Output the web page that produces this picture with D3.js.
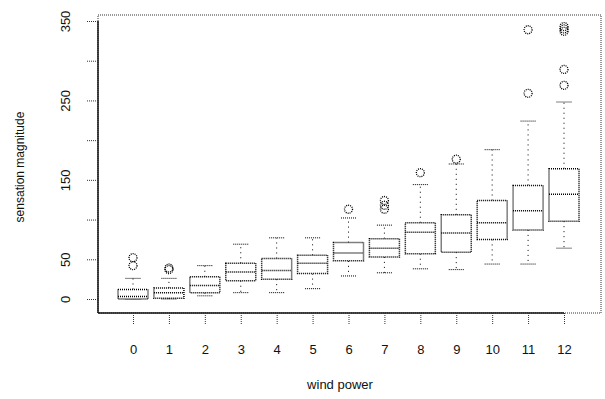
<!DOCTYPE html>
<html>
<head>
<meta charset="utf-8">
<script src="https://cdn.jsdelivr.net/npm/d3@7"></script>
<style>
  body { margin: 0; background: #fff; }
  svg { display: block; }
  text { font-family: "Liberation Sans", Arial, sans-serif; fill: #111; }
</style>
</head>
<body>
<script>
const categories = ["0","1","2","3","4","5","6","7","8","9","10","11","12"];
const q1Values     = [0, 1, 8, 23, 25, 32, 48, 53, 57, 59, 75, 87, 98];
const medianValues = [3, 8, 17, 34, 36, 45, 58, 64, 84, 83, 96, 111, 132];
const q3Values     = [12, 14, 28, 45, 51, 55, 71, 76, 96, 106, 124, 143, 164];
const lowerWhisker = [0, 0, 4, 8, 8, 13, 29, 33, 38, 37, 44, 44, 64];
const upperWhisker = [26, 26, 42, 69, 77, 77, 102, 93, 144, 170, 188, 224, 248];
const outlierValues = [[42, 52], [37, 39], [], [], [], [], [113], [113, 118, 124], [159], [176], [], [259, 339], [269, 289, 337, 340, 343]];
const yTicks = [0, 50, 100, 150, 200, 250, 300, 350];
const yTickLabels = ["0", "50", "", "150", "", "250", "", "350"];
const xTitle = "wind power";
const yTitle = "sensation magnitude";

const W = 605, H = 399;
const svg = d3.select("body").append("svg").attr("width", W).attr("height", H);

const x = d3.scalePoint().domain(categories).range([133, 564]);
const y = d3.scaleLinear().domain([0, 350]).range([299, 21]);

const plot = { left: 98, right: 601, top: 15, bottom: 313 };
const boxW = 30, capW = 15;
const dot = "1,1";
const col = "#000";

// frame
svg.append("rect")
  .attr("x", plot.left).attr("y", plot.top)
  .attr("width", plot.right - plot.left).attr("height", plot.bottom - plot.top)
  .attr("fill", "none").attr("stroke", "#333").attr("stroke-width", 1)
  .attr("stroke-dasharray", dot);

// y axis
const yAxis = d3.axisLeft(y).tickValues(yTicks).tickSize(12)
  .tickFormat((d, i) => yTickLabels[i]);
const gy = svg.append("g").attr("transform", `translate(${plot.left},0)`).call(yAxis);
gy.select(".domain").attr("stroke", "#111").attr("stroke-width", 1.5).attr("d", `M0,${plot.bottom}V${y(350)}`);
gy.selectAll(".tick line").attr("stroke", "#333").attr("stroke-dasharray", dot);
gy.selectAll(".tick text")
  .attr("transform", "rotate(-90)")
  .attr("x", 0).attr("y", -33).attr("dy", "0.35em")
  .attr("text-anchor", "middle")
  .style("font-size", "13px");

// x axis
const xAxis = d3.axisBottom(x).tickSize(11).tickPadding(21);
const gx = svg.append("g").attr("transform", `translate(0,${plot.bottom})`).call(xAxis);
gx.select(".domain").attr("stroke", "#111").attr("stroke-width", 1.5).attr("d", `M${plot.left},0H${x("12")}`);
gx.selectAll(".tick line").attr("stroke", "#333").attr("stroke-dasharray", dot);
gx.selectAll(".tick text").style("font-size", "13px");

// titles
svg.append("text").attr("x", 340).attr("y", 389).attr("text-anchor", "middle")
  .style("font-size", "13px").text(xTitle);
svg.append("text").attr("transform", "translate(24,167) rotate(-90)")
  .attr("text-anchor", "middle").style("font-size", "12px").text(yTitle);

// boxes
const data = categories.map((c, i) => ({
  c, q1: q1Values[i], med: medianValues[i], q3: q3Values[i],
  lo: lowerWhisker[i], hi: upperWhisker[i], out: outlierValues[i]
}));

const g = svg.append("g").attr("fill", "none").attr("stroke", col);

const bx = g.selectAll("g.box").data(data).join("g").attr("class", "box");

// whiskers
bx.append("line")
  .attr("x1", d => x(d.c)).attr("x2", d => x(d.c))
  .attr("y1", d => y(d.q3)).attr("y2", d => y(d.hi))
  .attr("stroke-dasharray", "1,4");
bx.append("line")
  .attr("x1", d => x(d.c)).attr("x2", d => x(d.c))
  .attr("y1", d => y(d.q1)).attr("y2", d => y(d.lo))
  .attr("stroke-dasharray", "1,4");
// caps
bx.append("line")
  .attr("x1", d => x(d.c) - capW / 2).attr("x2", d => x(d.c) + capW / 2)
  .attr("y1", d => y(d.hi)).attr("y2", d => y(d.hi))
  .attr("stroke-dasharray", dot);
bx.append("line")
  .attr("x1", d => x(d.c) - capW / 2).attr("x2", d => x(d.c) + capW / 2)
  .attr("y1", d => y(d.lo)).attr("y2", d => y(d.lo))
  .attr("stroke-dasharray", dot);
// box
bx.append("rect")
  .attr("x", d => x(d.c) - boxW / 2).attr("width", boxW)
  .attr("y", d => y(d.q3)).attr("height", d => y(d.q1) - y(d.q3))
  .attr("fill", "#fff")
  .attr("stroke-width", 1.5)
  .attr("stroke-dasharray", dot);
// median
bx.append("line")
  .attr("x1", d => x(d.c) - boxW / 2).attr("x2", d => x(d.c) + boxW / 2)
  .attr("y1", d => y(d.med)).attr("y2", d => y(d.med))
  .attr("stroke-width", 1.5)
  .attr("stroke-dasharray", dot);
// outliers
bx.selectAll("circle").data(d => d.out.map(v => ({ c: d.c, v }))).join("circle")
  .attr("cx", d => x(d.c)).attr("cy", d => y(d.v)).attr("r", 4)
  .attr("stroke-width", 1.3)
  .attr("stroke-dasharray", "1,1");
</script>
</body>
</html>
